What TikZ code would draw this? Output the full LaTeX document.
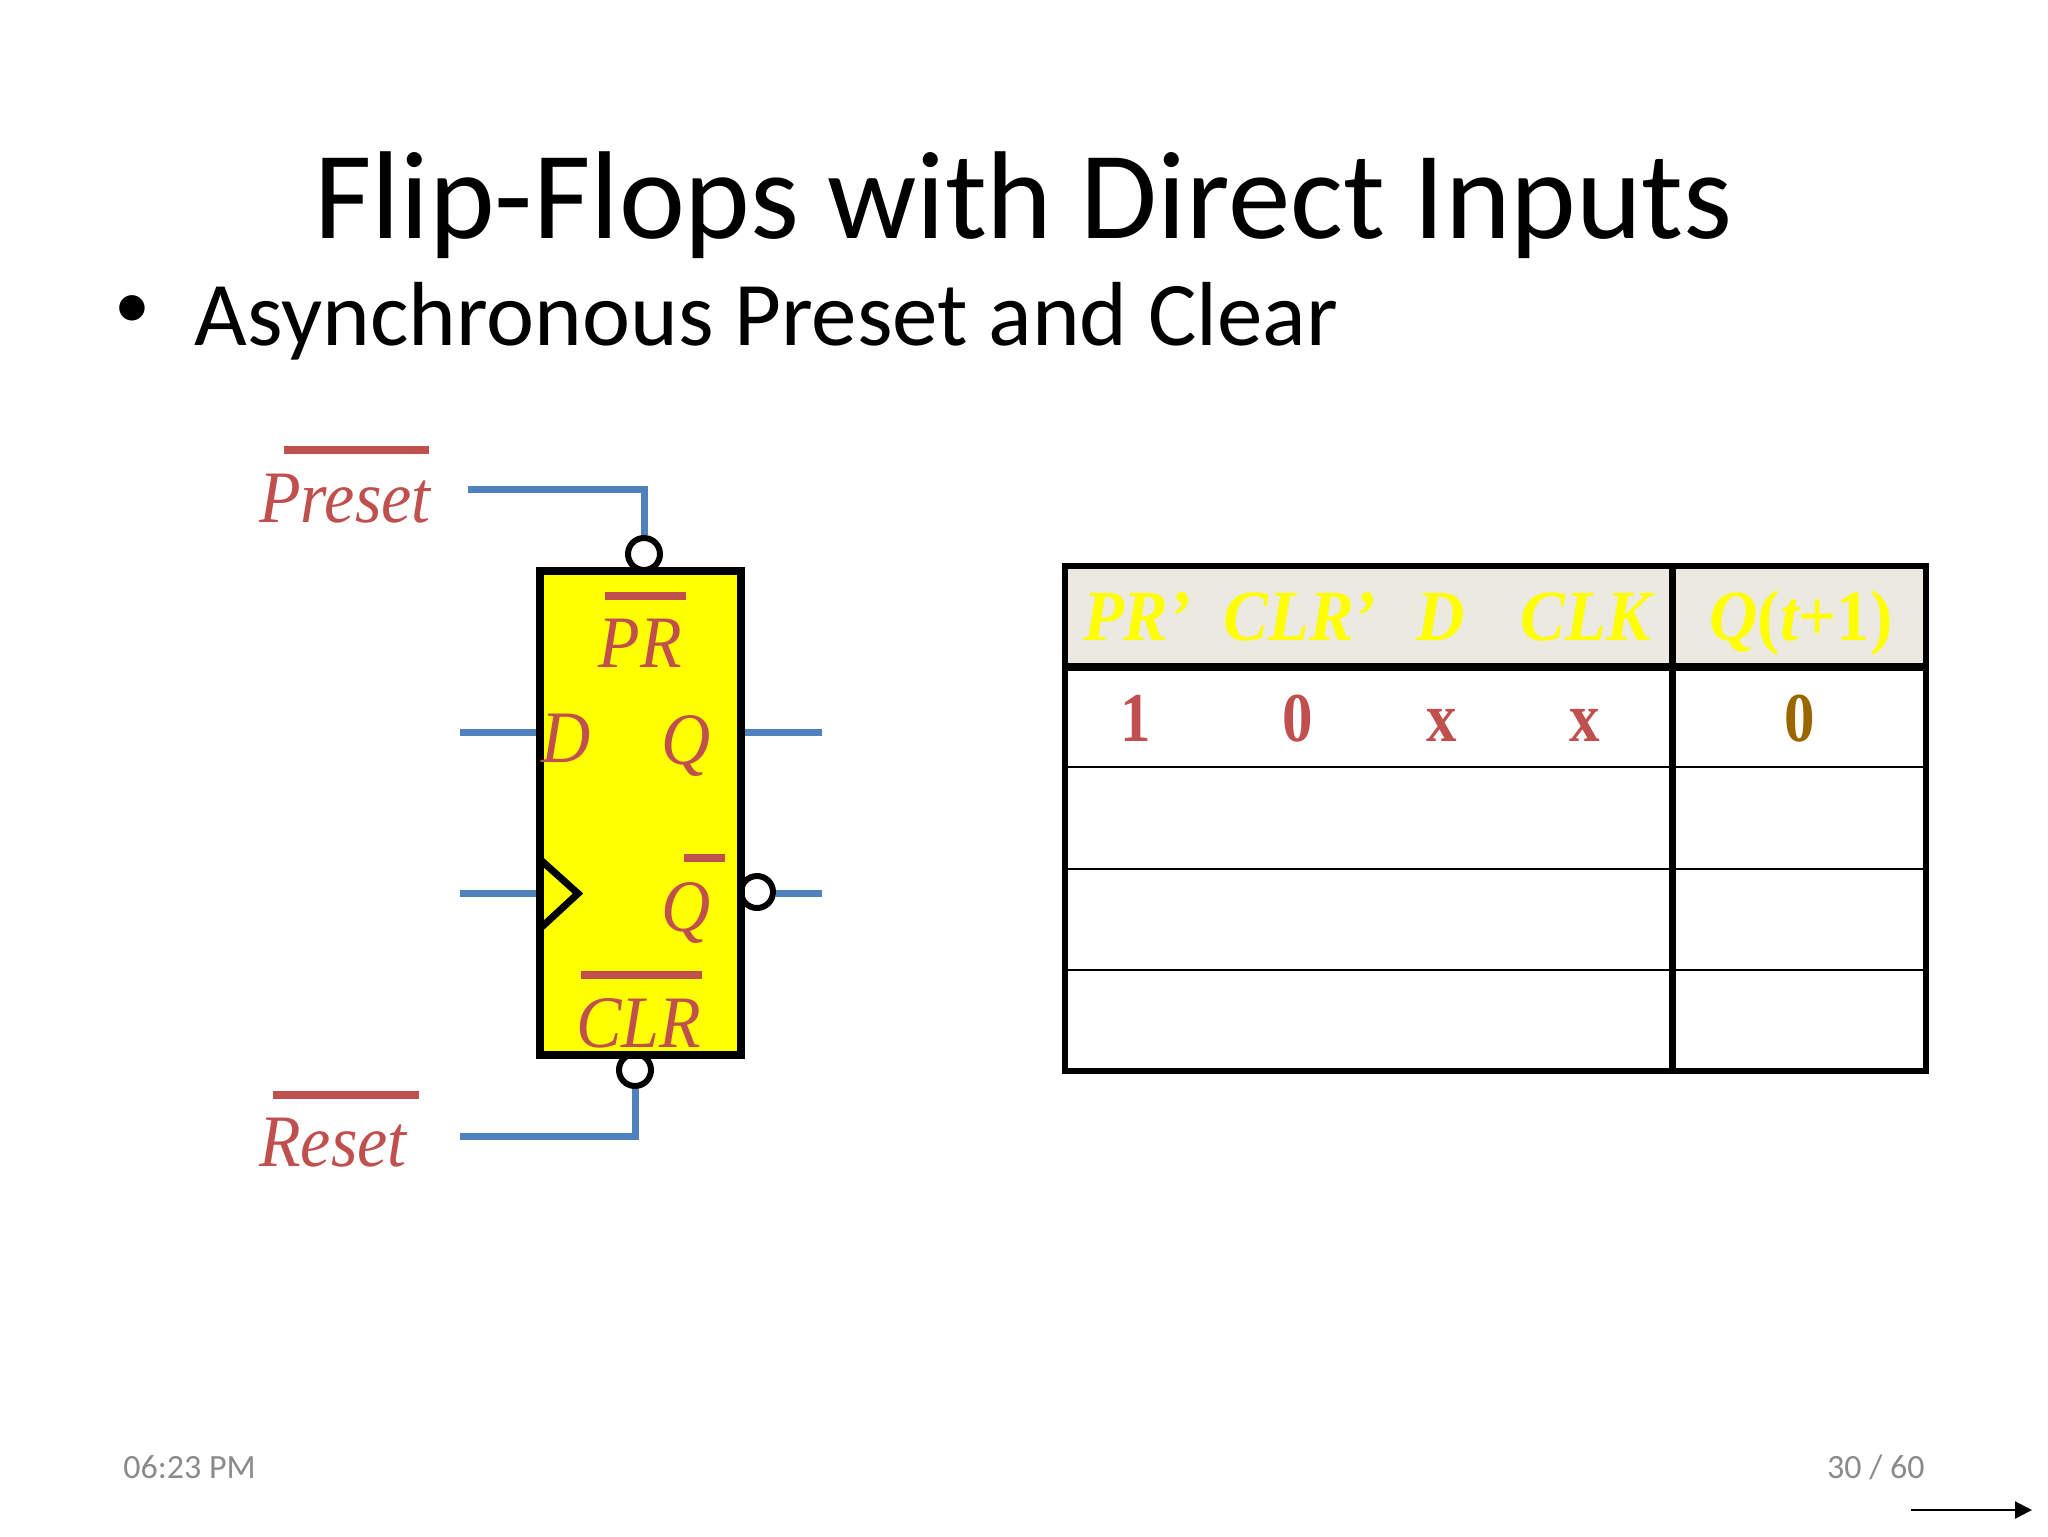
\documentclass[tikz,border=0pt]{standalone}
\usepackage{fontspec}
\setmainfont{Carlito}
\newfontfamily\sigfont[FakeStretch=0.92]{Liberation Serif}
\newfontfamily\headfont[FakeStretch=0.93]{Liberation Serif}
\newfontfamily\cellfont[FakeStretch=0.87]{Liberation Serif}
\usetikzlibrary{arrows.meta}
\definecolor{wireblue}{HTML}{4F81BD}
\definecolor{labelred}{HTML}{C0504D}
\definecolor{boxyellow}{HTML}{FFFF00}
\definecolor{headfill}{HTML}{ECEAE0}
\definecolor{outbrown}{HTML}{996600}
\definecolor{footgray}{HTML}{8B8B8B}
\tikzstyle{wire}=[draw=wireblue, line width=3.5pt]
\tikzstyle{bar}=[draw=labelred, line width=4pt]
\tikzstyle{bubble}=[draw, circle, fill=white, line width=3pt, inner sep=0pt, minimum size=16pt]
\tikzstyle{ffbox}=[line width=4pt, minimum width=100.5pt, minimum height=242pt, inner sep=0pt]
\tikzstyle{sig}=[inner sep=0pt, anchor=base, text=labelred, font=\sigfont\itshape\fontsize{37}{40}\selectfont]
\tikzstyle{thead}=[inner sep=0pt, anchor=base, text=boxyellow, font=\headfont\bfseries\itshape\fontsize{36}{40}\selectfont]
\tikzstyle{tcell}=[inner sep=0pt, anchor=base, text=labelred, font=\cellfont\bfseries\fontsize{35}{40}\selectfont]
\tikzstyle{foot}=[inner sep=0pt, text=footgray, font=\fontsize{17}{18}\selectfont]
\begin{document}
\begin{tikzpicture}[x=0.5pt, y=-0.5pt]
    \useasboundingbox (0, 0) rectangle (2048, 1536);
    \node[inner sep=0pt, font=\fontsize{62.5}{66}\selectfont] (title) at (1024, 205) {Flip-Flops with Direct Inputs};
    \node[inner sep=0pt, font=\fontsize{36}{40}\selectfont] (dot) at (132, 312) {•};
    \node[inner sep=0pt, anchor=west, font=\fontsize{45.5}{48}\selectfont] (subtitle) at (194, 321) {Asynchronous Preset and Clear};

    % flip-flop
    \node[bubble] (prb) at (644, 554) {};
    \node[bubble] (clrb) at (635, 1070) {};
    \node[bubble] (qnb) at (757, 892) {};
    \node[ffbox, fill=boxyellow] (ff) at (640.8, 813) {};
    \coordinate (clkA) at (ff.west |- 0, 856);
    \coordinate (clkB) at (578, 893.5);
    \coordinate (clkC) at (ff.west |- 0, 932);
    \begin{scope}
        \clip (ff.north west) rectangle (ff.south east);
        \draw[line width=3.5pt] (clkA) -- (clkB) -- (clkC);
    \end{scope}
    \node[ffbox, draw] (ffedge) at (ff.center) {};

    \coordinate (preIn) at (468, 489);
    \coordinate (preUp) at (644, 489);
    \coordinate (rstIn) at (460, 1136.5);
    \coordinate (rstUp) at (635, 1136.5);
    \coordinate (dIn) at (460, 732);
    \coordinate (qOut) at (822, 732);
    \coordinate (clkIn) at (460, 893);
    \coordinate (qnOut) at (822, 893);
    \draw[wire] (preIn) -- (preUp) -- (prb.north -| preUp);
    \draw[wire] (rstIn) -- (rstUp) -- (clrb.south);
    \draw[wire] (dIn) -- (ff.west |- dIn);
    \draw[wire] (ff.east |- qOut) -- (qOut);
    \draw[wire] (clkIn) -- (ff.west |- clkIn);
    \draw[wire] (qnb.east |- qnOut) -- (qnOut);

    \node[sig] (preset) at (345, 522) {Preset};
    \node[sig] (reset) at (333, 1166) {Reset};
    \node[sig] (pr) at (640, 667) {PR};
    \node[sig] (d) at (566, 762) {D};
    \node[sig] (q) at (686, 764) {Q};
    \node[sig] (qn) at (686, 931) {Q};
    \node[sig] (clr) at (639, 1047) {CLR};
    \draw[bar] (284, 450) -- (429, 450);
    \draw[bar] (273, 1095) -- (418.5, 1095);
    \draw[bar] (605, 596) -- (686, 596);
    \draw[bar] (684, 858) -- (725, 858);
    \draw[bar] (581, 975) -- (702, 975);

    % table
    \fill[headfill] (1064.5, 566) rectangle (1926, 667);
    \draw[line width=1.2pt] (1064.5, 767) -- (1926, 767);
    \draw[line width=1.2pt] (1064.5, 869) -- (1926, 869);
    \draw[line width=1.2pt] (1064.5, 970) -- (1926, 970);
    \draw[line width=4pt] (1064.5, 667) -- (1926, 667);
    \draw[line width=3.5pt] (1672, 566) -- (1672, 1071);
    \draw[line width=3pt] (1064.5, 566) rectangle (1926, 1071);
    \node[thead] (hpr) at (1137, 640) {PR’};
    \node[thead] (hclr) at (1300, 640) {CLR’};
    \node[thead] (hd) at (1441, 640) {D};
    \node[thead] (hclk) at (1586, 640) {CLK};
    \node[thead] (hq) at (1801, 640) {Q{\upshape(}t{\upshape+1)}};
    \node[tcell] (c1) at (1136, 741) {1};
    \node[tcell] (c2) at (1298, 741) {0};
    \node[tcell] (c3) at (1442, 741) {x};
    \node[tcell] (c4) at (1585, 741) {x};
    \node[tcell, text=outbrown] (c5) at (1800, 741) {0};

    % footer
    \node[foot, anchor=west] (time) at (123, 1467) {06:23 PM};
    \node[foot, anchor=east] (page) at (1925, 1467) {30 / 60};
    \coordinate (navA) at (1911, 1510);
    \coordinate (navB) at (2032, 1510);
    \draw[-{Triangle[length=8.5pt, width=8.5pt]}, line width=1pt] (navA) -- (navB);
\end{tikzpicture}
\end{document}
